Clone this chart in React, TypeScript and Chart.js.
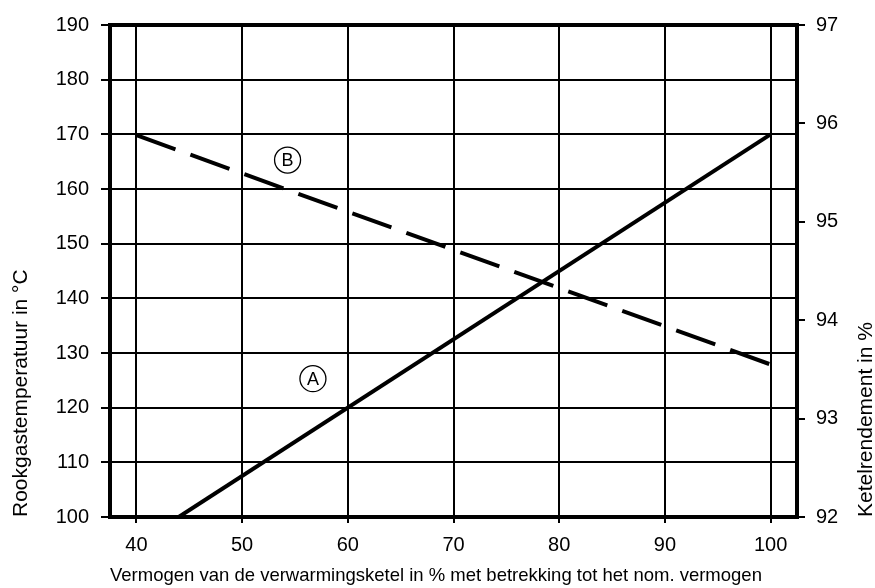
import React, { useEffect, useRef } from "react";
import { Chart, registerables } from "chart.js";

Chart.register(...registerables);

const xTicks = [40, 50, 60, 70, 80, 90, 100];
const leftTicks = [100, 110, 120, 130, 140, 150, 160, 170, 180, 190];
const rightTicks = [92, 93, 94, 95, 96, 97];

// Curve A: Rookgastemperatuur (left axis)
const seriesAX = [44, 100];
const seriesAY = [100, 170];
// Curve B: Ketelrendement (right axis)
const seriesBX = [40, 100];
const seriesBY = [95.88, 93.55];

// Circled markers (data coordinates, left axis)
const markerLabels = ["A", "B"];
const markerX = [56.7, 54.3];
const markerY = [125.3, 165.3];

const FONT = "'Liberation Sans', Arial, sans-serif";

const framePlugin = {
  id: "frame",
  afterDatasetsDraw(chart: any) {
    const { ctx, chartArea } = chart;
    ctx.save();
    ctx.strokeStyle = "#000";
    ctx.lineWidth = 4;
    ctx.strokeRect(chartArea.left, chartArea.top, chartArea.right - chartArea.left, chartArea.bottom - chartArea.top);
    // circled markers
    const sx = chart.scales.x;
    const sy = chart.scales.y;
    markerLabels.forEach((lab, i) => {
      const px = sx.getPixelForValue(markerX[i]);
      const py = sy.getPixelForValue(markerY[i]);
      ctx.beginPath();
      ctx.lineWidth = 1.3;
      ctx.arc(px, py, 13, 0, Math.PI * 2);
      ctx.stroke();
      ctx.fillStyle = "#000";
      ctx.font = `18px ${FONT}`;
      ctx.textAlign = "center";
      ctx.textBaseline = "middle";
      ctx.fillText(lab, px, py + 1);
    });
    // right axis title (reads bottom to top)
    ctx.translate(872, chartArea.bottom);
    ctx.rotate(-Math.PI / 2);
    ctx.font = `21px ${FONT}`;
    ctx.textAlign = "left";
    ctx.textBaseline = "alphabetic";
    ctx.fillText("Ketelrendement in %", 0, 0);
    ctx.restore();
  },
};

export default function App() {
  const ref = useRef<HTMLCanvasElement>(null);
  useEffect(() => {
    if (!ref.current) return;
    const chart = new Chart(ref.current, {
      type: "line",
      data: {
        datasets: [
          {
            label: "A",
            data: seriesAX.map((x, i) => ({ x, y: seriesAY[i] })),
            yAxisID: "y",
            borderColor: "#000",
            borderWidth: 4,
            pointRadius: 0,
            fill: false,
          },
          {
            label: "B",
            data: seriesBX.map((x, i) => ({ x, y: seriesBY[i] })),
            yAxisID: "y2",
            borderColor: "#000",
            borderWidth: 4,
            borderDash: [41.5, 15.9],
            pointRadius: 0,
            fill: false,
          },
        ],
      },
      options: {
        animation: false,
        responsive: true,
        maintainAspectRatio: false,
        layout: { padding: { top: 25, left: 0, right: 0, bottom: 0 } },
        plugins: { legend: { display: false }, tooltip: { enabled: false } },
        scales: {
          x: {
            type: "linear",
            position: "bottom",
            min: 37.5,
            max: 102.5,
            afterBuildTicks: (s: any) => {
              s.ticks = xTicks.map((v) => ({ value: v }));
            },
            afterFit: (s: any) => {
              s.height = 71;
            },
            grid: { color: "#000", lineWidth: 2, tickLength: 6, drawOnChartArea: true },
            border: { display: false },
            ticks: { color: "#000", font: { family: FONT, size: 20 }, padding: 10, maxRotation: 0 },
            title: {
              display: true,
              text: "Vermogen van de verwarmingsketel in % met betrekking tot het nom. vermogen",
              align: "start",
              color: "#000",
              font: { family: FONT, size: 18.5 },
              padding: { top: 0, bottom: 1 },
            },
          },
          y: {
            type: "linear",
            position: "left",
            min: 100,
            max: 190,
            afterBuildTicks: (s: any) => {
              s.ticks = leftTicks.map((v) => ({ value: v }));
            },
            afterFit: (s: any) => {
              s.width = 110;
            },
            grid: { color: "#000", lineWidth: 2, tickLength: 9 },
            border: { display: false },
            ticks: { color: "#000", font: { family: FONT, size: 20 }, padding: 12 },
            title: {
              display: true,
              text: "Rookgastemperatuur in °C",
              align: "start",
              color: "#000",
              font: { family: FONT, size: 21 },
              padding: { top: 8.5, bottom: 0 },
            },
          },
          y2: {
            type: "linear",
            position: "right",
            min: 92,
            max: 97,
            afterBuildTicks: (s: any) => {
              s.ticks = rightTicks.map((v) => ({ value: v }));
            },
            afterFit: (s: any) => {
              s.width = 78;
            },
            grid: { color: "#000", lineWidth: 2, tickLength: 8, drawOnChartArea: false },
            border: { display: false },
            ticks: { color: "#000", font: { family: FONT, size: 20 }, padding: 11 },
          },
        },
      },
      plugins: [framePlugin],
    } as any);
    return () => chart.destroy();
  }, []);
  return (
    <div style={{ position: "fixed", left: 0, top: 0, width: 875, height: 588, background: "#fff" }}>
      <canvas ref={ref} />
    </div>
  );
}
